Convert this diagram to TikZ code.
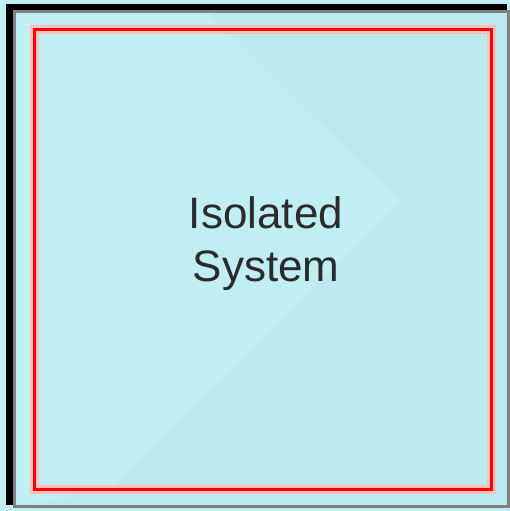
\documentclass[tikz,border=0pt]{standalone}
\usepackage{fontspec}
\setmainfont{Liberation Sans}
\definecolor{mPanel}{HTML}{BCE9ED}
\definecolor{mPanelLight}{HTML}{C0EEF3}
\definecolor{mRim}{HTML}{808080}
\definecolor{mHalo}{HTML}{FFBFBF}
\definecolor{mInk}{HTML}{2B2B2B}
\usetikzlibrary{positioning,calc}

\begin{document}
\begin{tikzpicture}[x=1pt, y=1pt, font=\fontsize{44}{53}\selectfont,
  panel/.style={fill=mPanel, minimum width=504pt, minimum height=504pt, inner sep=0pt, outer sep=0pt},
  boundary/.style={minimum width=457pt, minimum height=460pt, inner sep=0pt, outer sep=0pt},
  rimdark/.style={line width=6.5pt, black},
  rimgrey/.style={line width=3pt, mRim},
  halo/.style={line width=9pt, mHalo},
  wall/.style={line width=3pt, red}]
\useasboundingbox[fill=mPanelLight] (0,0) rectangle (510,511);
\node[panel] (frame) at (258,255) {};
% lighter chevron
\fill[mPanelLight] (frame.north west) -- (205,501) -- (400,309) -- (110,21) -- (frame.south west) -- cycle;
% sunken rim
\draw[rimgrey] ($(frame.south east)+(-1.5,0)$) -- ($(frame.north east)+(-1.5,-6.5)$);
\draw[rimgrey] ($(frame.south west)+(7,1.5)$) -- ($(frame.south east)+(0,1.5)$);
\draw[rimgrey] ($(frame.south west)+(8.5,3)$) -- ($(frame.north west)+(8.5,-8)$) -- ($(frame.north east)+(-3,-8)$);
\draw[rimdark] ($(frame.south west)+(3.5,3)$) -- ($(frame.north west)+(3.5,-3.25)$) -- ($(frame.north east)+(-3,-3.25)$);
% isolated system boundary
\node[boundary] (wall) at (263,251.5) {};
\draw[halo] (wall.south west) rectangle (wall.north east);
\draw[wall] (wall.south west) rectangle (wall.north east);
\node[mInk, align=center] (label) at (266,267) {Isolated\\System};
\end{tikzpicture}
\end{document}
